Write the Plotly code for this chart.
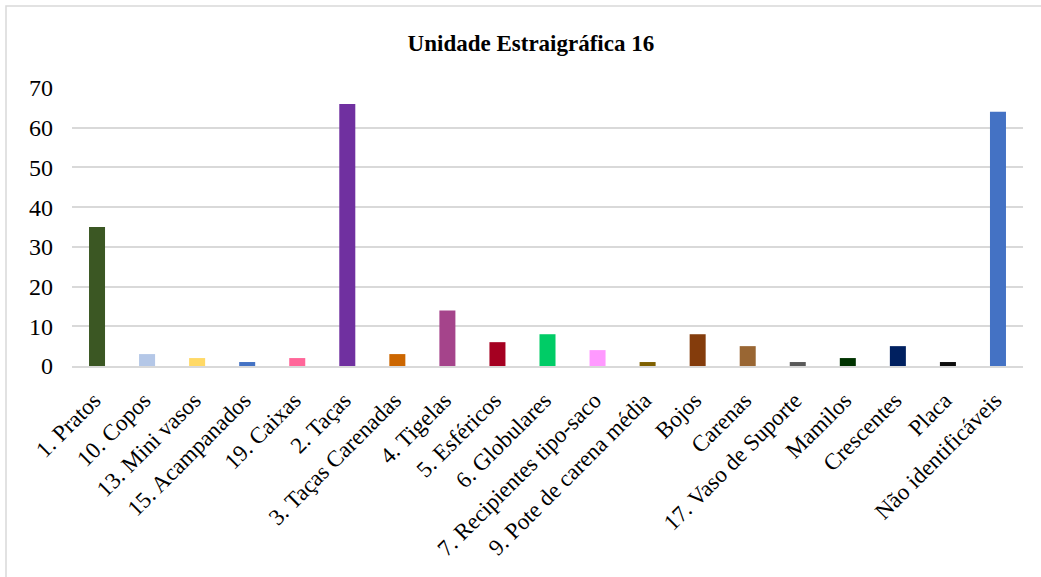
import plotly.graph_objects as go

categorias = ["1. Pratos", "10. Copos", "13. Mini vasos", "15. Acampanados", "19. Caixas",
              "2. Taças", "3. Taças Carenadas", "4. Tigelas", "5. Esféricos", "6. Globulares",
              "7. Recipientes tipo-saco", "9. Pote de carena média", "Bojos", "Carenas",
              "17. Vaso de Suporte", "Mamilos", "Crescentes", "Placa", "Não identificáveis"]
valores = [35, 3, 2, 1, 2, 66, 3, 14, 6, 8, 4, 1, 8, 5, 1, 2, 5, 1, 64]
cores = ["#3b5723", "#b4c7e7", "#ffd966", "#4472c4", "#ff6699", "#7030a0", "#cc6600",
         "#a5448b", "#a50021", "#00cc66", "#ff99ff", "#7f6000", "#843c0c", "#996633",
         "#595959", "#003300", "#002060", "#0d0d0d", "#4472c4"]

fig = go.Figure(go.Bar(x=categorias, y=valores, marker_color=cores, marker_line_width=0))

fig.update_layout(
    width=1041, height=577,
    margin=dict(l=72, r=18, t=88, b=211),
    paper_bgcolor="white", plot_bgcolor="white",
    font=dict(family="Liberation Serif, Times New Roman, serif", color="black"),
    title=dict(text="<b>Unidade Estraigráfica 16</b>", x=0.51, xanchor="center",
               y=0.925, yanchor="middle", font=dict(size=23)),
    bargap=0.68,
    showlegend=False,
)
fig.update_yaxes(range=[0, 70], dtick=10, showgrid=True, gridcolor="#d9d9d9", gridwidth=1.5,
                 tickfont=dict(size=24), ticks="", zeroline=False, automargin=False,
                 ticklabelstandoff=18)
fig.update_xaxes(tickangle=-45, tickfont=dict(size=23), showline=True, linecolor="#d9d9d9",
                 linewidth=1.5, ticks="", automargin=False,
                 ticklabelstandoff=10, ticklabelshift=-3)
fig.add_shape(type="rect", xref="paper", yref="paper",
              x0=-0.0694, x1=1.03, y0=-0.8, y1=1.295,
              line=dict(color="#d9d9d9", width=1.5), fillcolor="rgba(0,0,0,0)")

fig.write_html("out.html", config={"displayModeBar": False},
               post_script="document.body.style.margin='0';")
